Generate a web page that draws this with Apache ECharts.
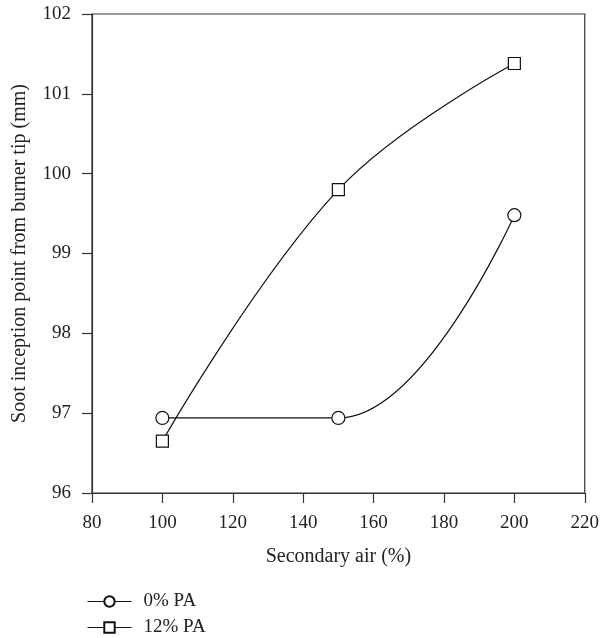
<!DOCTYPE html>
<html>
<head>
<meta charset="utf-8">
<script src="https://cdn.jsdelivr.net/npm/echarts@6/dist/echarts.min.js"></script>
<style>
  html, body { margin: 0; padding: 0; background: #fff; }
  #chart { width: 602px; height: 638px; }
</style>
</head>
<body>
<div id="chart"></div>
<script>
// 二次空气比例 (%)
const airPct = [100, 150, 200]
// 各组数据：碳烟起始点距离 (mm)
const pa0 = [96.94, 96.94, 99.48]
const pa12 = [96.65, 99.8, 101.38]
const seriesNames = ['0% PA', '12% PA']

const font = 'Liberation Serif, Times New Roman, serif'
let myChart = echarts.init(document.getElementById('chart'))

function pairs (xs, ys) {
  return xs.map((x, i) => [x, ys[i]])
}

let option = {
  backgroundColor: '#fff',
  textStyle: { fontFamily: font, color: '#222' },
  grid: {
    left: 92, right: 17, top: 14, bottom: 145,
    show: true, borderColor: '#333', borderWidth: 1.2
  },
  legend: {
    orient: 'vertical',
    left: 87,
    top: 592,
    height: 80,
    padding: 0,
    itemWidth: 44,
    itemHeight: 13,
    itemGap: 7,
    lineStyle: { width: 1 },
    textStyle: { fontFamily: font, fontSize: 19, lineHeight: 19, color: '#222', padding: [0, 0, 0, 7] },
    data: seriesNames
  },
  xAxis: {
    type: 'value',
    min: 80, max: 220, interval: 20,
    name: 'Secondary air (%)',
    nameLocation: 'middle',
    nameGap: 54,
    nameTextStyle: { fontFamily: font, fontSize: 20, color: '#222' },
    axisLine: { lineStyle: { color: '#333', width: 1.2 } },
    axisTick: { length: 10, lineStyle: { color: '#333', width: 1.2 } },
    axisLabel: { fontFamily: font, fontSize: 19, color: '#222', margin: 21 },
    splitLine: { show: false }
  },
  yAxis: {
    type: 'value',
    min: 96, max: 102, interval: 1,
    name: 'Soot inception point from burner tip (mm)',
    nameLocation: 'middle',
    nameGap: 62,
    nameTextStyle: { fontFamily: font, fontSize: 20, color: '#222' },
    axisLine: { show: true, lineStyle: { color: '#333', width: 1.2 } },
    axisTick: { show: true, length: 10, lineStyle: { color: '#333', width: 1.2 } },
    axisLabel: { fontFamily: font, fontSize: 19, color: '#222', margin: 21 },
    splitLine: { show: false }
  },
  series: [
    {
      name: seriesNames[0],
      type: 'line',
      data: pairs(airPct, pa0),
      smooth: 0.4,
      symbol: 'circle',
      symbolSize: 13,
      itemStyle: { color: '#fff', borderColor: '#111', borderWidth: 1.2 },
      lineStyle: { color: '#111', width: 1.2 }
    },
    {
      name: seriesNames[1],
      type: 'line',
      data: pairs(airPct, pa12),
      smooth: 0.4,
      symbol: 'rect',
      symbolSize: 12,
      itemStyle: { color: '#fff', borderColor: '#111', borderWidth: 1.2 },
      lineStyle: { color: '#111', width: 1.2 }
    }
  ]
}
myChart.setOption(option, true)
</script>
</body>
</html>
